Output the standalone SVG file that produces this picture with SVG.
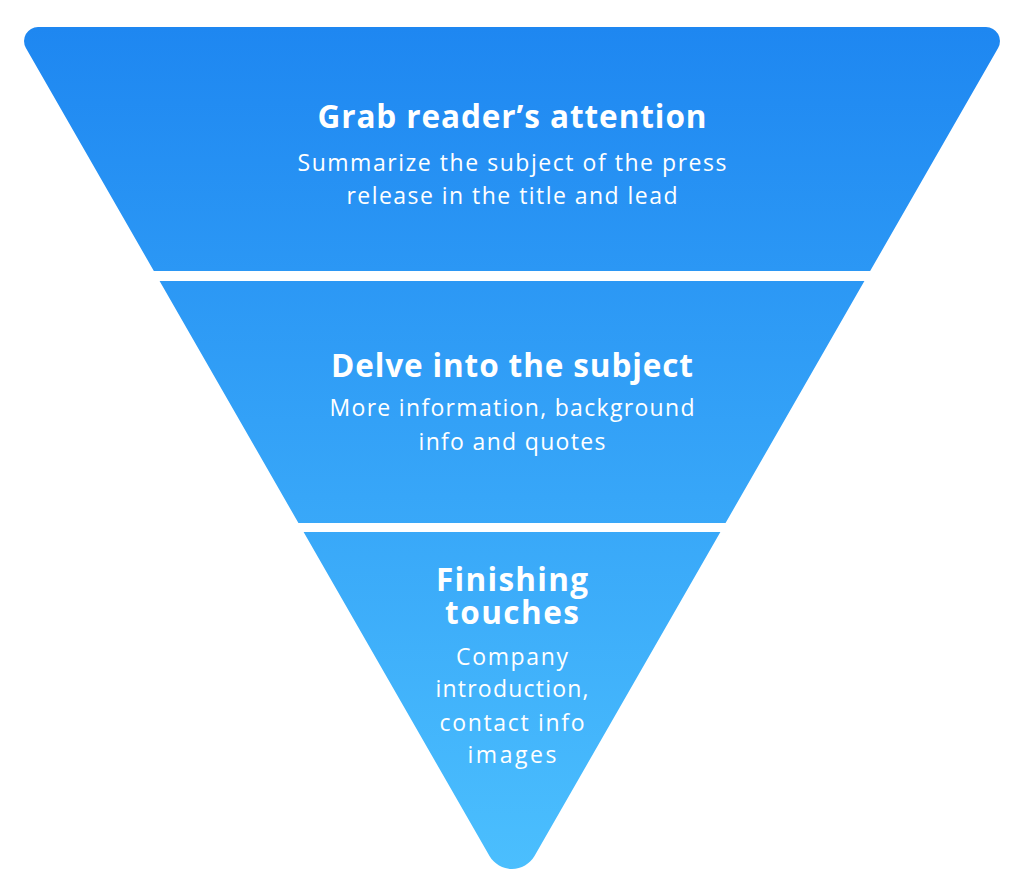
<svg xmlns="http://www.w3.org/2000/svg" width="1024" height="894" viewBox="0 0 1024 894">
  <defs>
    <linearGradient id="fill" gradientUnits="userSpaceOnUse" x1="0" y1="27" x2="0" y2="890">
      <stop offset="0" stop-color="#1e87f1"/>
      <stop offset="1" stop-color="#4cc0fe"/>
    </linearGradient>
    <path id="tri" d="M38 27 L986 27 A14 14 0 0 1 998.1 48 L534.5 856 A26 26 0 0 1 489.5 856 L25.9 48 A14 14 0 0 1 38 27 Z"/>
    <clipPath id="c1"><rect x="0" y="0" width="1024" height="271"/></clipPath>
    <clipPath id="c2"><rect x="0" y="281" width="1024" height="242"/></clipPath>
    <clipPath id="c3"><rect x="0" y="532" width="1024" height="362"/></clipPath>
  </defs>
  <style>
    .t { font-family: "Open Sans", Roboto, "Liberation Sans", sans-serif; font-weight: 700; font-size: 31.5px; fill: #ffffff; text-anchor: middle; }
    .s { font-family: "Open Sans", Roboto, "Liberation Sans", sans-serif; font-weight: 400; font-size: 23px; fill: #ffffff; text-anchor: middle; }
  </style>
  <g id="connectors"></g>
  <g id="band1">
    <use href="#tri" fill="url(#fill)" clip-path="url(#c1)"/>
    <text class="t" x="512" y="128" textLength="389" lengthAdjust="spacing">Grab reader’s attention</text>
    <text class="s" x="512" y="171" textLength="429" lengthAdjust="spacing">Summarize the subject of the press</text>
    <text class="s" x="512" y="204" textLength="331" lengthAdjust="spacing">release in the title and lead</text>
  </g>
  <g id="band2">
    <use href="#tri" fill="url(#fill)" clip-path="url(#c2)"/>
    <text class="t" x="512" y="377" textLength="362" lengthAdjust="spacing">Delve into the subject</text>
    <text class="s" x="512" y="416" textLength="365" lengthAdjust="spacing">More information, background</text>
    <text class="s" x="512" y="450" textLength="187" lengthAdjust="spacing">info and quotes</text>
  </g>
  <g id="band3">
    <use href="#tri" fill="url(#fill)" clip-path="url(#c3)"/>
    <text class="t" x="512" y="591" textLength="152" lengthAdjust="spacing">Finishing</text>
    <text class="t" x="512" y="624" textLength="134" lengthAdjust="spacing">touches</text>
    <text class="s" x="512" y="665" textLength="112" lengthAdjust="spacing">Company</text>
    <text class="s" x="512" y="697" textLength="153" lengthAdjust="spacing">introduction,</text>
    <text class="s" x="512" y="731" textLength="145" lengthAdjust="spacing">contact info</text>
    <text class="s" x="512" y="763" textLength="89" lengthAdjust="spacing">images</text>
  </g>
</svg>
